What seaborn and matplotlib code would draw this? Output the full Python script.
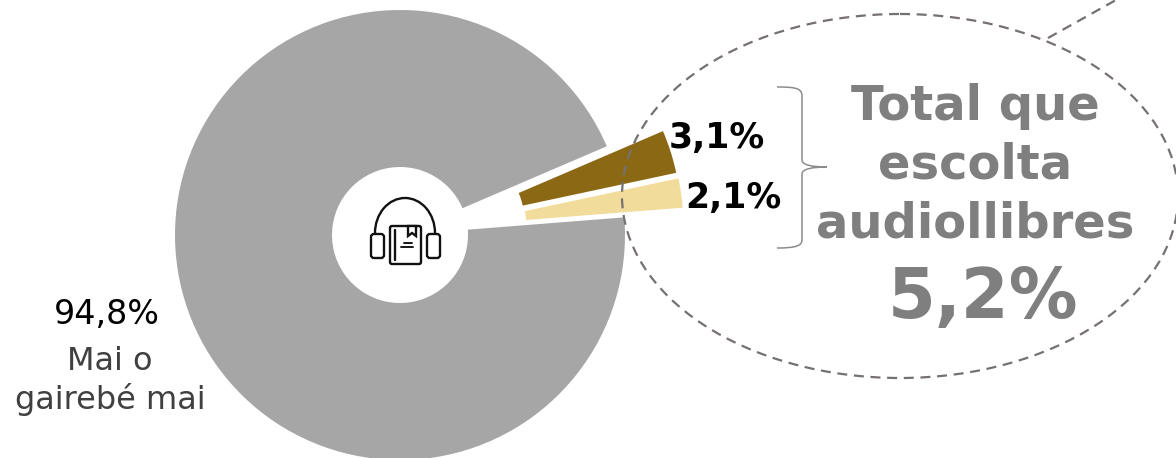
import matplotlib
matplotlib.use("Agg")
import matplotlib.pyplot as plt
import seaborn as sns
from matplotlib.patches import Arc, Ellipse, FancyBboxPatch, PathPatch, Polygon
from matplotlib.path import Path

# values
categories = ["Audiollibres 2", "Audiollibres 1", "Mai o gairebé mai"]
values = [2.1, 3.1, 94.8]
total_audio = 5.2
colors = sns.color_palette(["#F2DC9B", "#8B6914", "#A6A6A6"])
TXT = "#7F7F7F"
LINE = "#767171"
ICON = "#111111"


def pct(v):
    return f"{v:.1f}%".replace(".", ",")


sns.set_theme(style="white")
plt.rcParams["font.family"] = ["DejaVu Sans"]

fig = plt.figure(figsize=(11.76, 4.58), dpi=100)
ax = fig.add_axes([0, 0, 1, 1])

# y axis runs downwards so everything is in picture pixels, hence the negative start
# explode is in data units here, so pixels
wedges, _ = ax.pie(values, colors=colors, center=(400, 235), radius=225, startangle=-4.5,
                   counterclock=False, explode=[60, 60, 0], frame=True,
                   wedgeprops=dict(width=157, linewidth=0))
# small nudge of the two pulled out slices
for w, (dx, dy) in zip(wedges[:2], [(-1, -1), (-1, 3)]):
    w.set_center((w.center[0] + dx, w.center[1] + dy))
ax.set_xlim(0, 1176)
ax.set_ylim(458, 0)
ax.set_aspect("equal")
ax.axis("off")

# callout bubble
ax.add_patch(Ellipse((900, 196), 556, 364, fill=False, ec=LINE, lw=1.6, ls=(0, (4.5, 3)), zorder=4))
ax.plot([1048, 1116], [38, 0], color=LINE, lw=1.6, ls=(0, (4.5, 3)), zorder=4)

# brace
verts = [(777, 87), (795, 87), (802, 88), (802, 96), (802, 160), (802, 165), (812, 167), (827, 167),
         (812, 167), (802, 169), (802, 174), (802, 240), (802, 246), (795, 248), (777, 248)]
codes = [Path.MOVETO, Path.CURVE4, Path.CURVE4, Path.CURVE4, Path.LINETO, Path.CURVE4, Path.CURVE4, Path.CURVE4,
         Path.CURVE4, Path.CURVE4, Path.CURVE4, Path.LINETO, Path.CURVE4, Path.CURVE4, Path.CURVE4]
ax.add_patch(PathPatch(Path(verts, codes), fill=False, ec="#8C8C8C", lw=1.1, zorder=4))

# labels
ax.text(717, 138, pct(values[1]), fontsize=25, fontweight="bold", color="black", ha="center", va="center", zorder=5)
ax.text(733, 198, pct(values[0]), fontsize=25, fontweight="bold", color="black", ha="center", va="center", zorder=5)
ax.text(107, 315, pct(values[2]), fontsize=24, color="black", ha="center", va="center")
ax.text(110, 362, "Mai o", fontsize=23, color="#404040", ha="center", va="center")
ax.text(110, 400, "gairebé mai", fontsize=23, color="#404040", ha="center", va="center")
ax.text(975, 106, "Total que", fontsize=34.6, fontweight="bold", color=TXT, ha="center", va="center", zorder=5)
ax.text(975, 165, "escolta", fontsize=34.6, fontweight="bold", color=TXT, ha="center", va="center", zorder=5)
ax.text(975, 224, "audiollibres", fontsize=34.6, fontweight="bold", color=TXT, ha="center", va="center", zorder=5)
ax.text(983, 298, pct(total_audio), fontsize=49.5, fontweight="bold", color=TXT, ha="center", va="center", zorder=5)

# headphones + book icon
lw = 1.7
ax.add_patch(Arc((405, 233), 60, 70, theta1=180, theta2=360, ec=ICON, lw=lw, zorder=6))
for x0 in (371, 427):
    ax.add_patch(FancyBboxPatch((x0 + 3, 237), 7, 18, boxstyle="round,pad=3", fc="white", ec=ICON, lw=lw, zorder=6))
ax.add_patch(FancyBboxPatch((392, 228), 27, 34, boxstyle="round,pad=2", fc="white", ec=ICON, lw=lw, zorder=6))
ax.add_patch(Polygon([(408, 226), (416, 226), (416, 236), (412, 233), (408, 236)], closed=True, fc="white", ec=ICON, lw=lw, zorder=7))
ax.plot([394.5, 394.5], [230, 260], color=ICON, lw=lw, zorder=7)
ax.plot([404, 412], [243, 243], color=ICON, lw=lw * 0.8, zorder=7)
ax.plot([401, 413], [247, 247], color=ICON, lw=lw * 0.8, zorder=7)

fig.savefig("out.png", dpi=100)
